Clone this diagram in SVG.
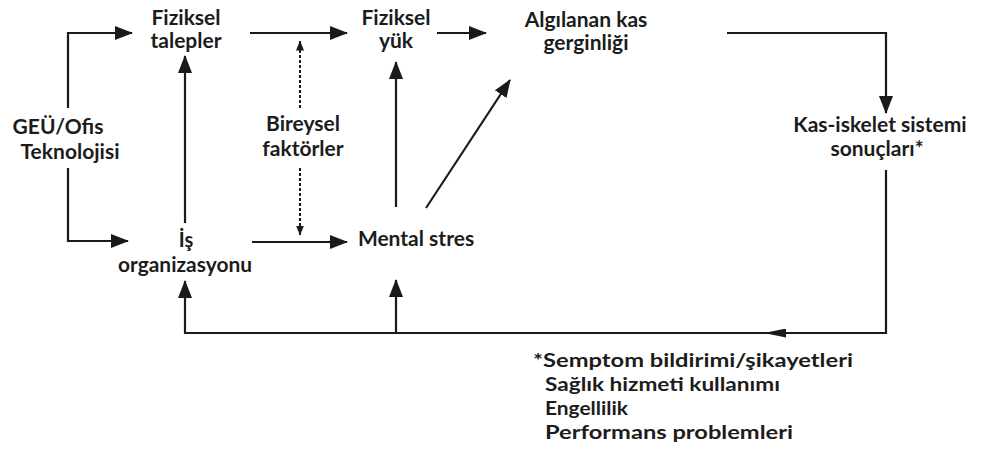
<svg xmlns="http://www.w3.org/2000/svg" width="985" height="454" viewBox="0 0 985 454">
<style>
.t{font-family:Lato,"Open Sans","Liberation Sans",sans-serif;font-weight:bold;font-size:21px;fill:#1c1c1c;text-anchor:middle}
.f{text-anchor:start;font-size:19.5px}
.c{fill:none;stroke:#1a1a1a;stroke-width:2.2}
.d{fill:none;stroke:#1a1a1a;stroke-width:2;stroke-dasharray:3 2}
</style>
<defs>
<marker id="a" markerUnits="userSpaceOnUse" viewBox="0 0 18 14" refX="17" refY="7" markerWidth="18" markerHeight="14" orient="auto">
<path d="M0,0 L18,7 L0,14 z" fill="#1a1a1a"/>
</marker>
<marker id="s" markerUnits="userSpaceOnUse" viewBox="0 0 10 8" refX="9.5" refY="4" markerWidth="10" markerHeight="8" orient="auto">
<path d="M0,0 L10,4 L0,8 z" fill="#1a1a1a"/>
</marker>
<marker id="m" markerUnits="userSpaceOnUse" viewBox="0 0 22 9" refX="21" refY="4.5" markerWidth="22" markerHeight="9" orient="auto">
<path d="M0,0 L22,4.5 L0,9 z" fill="#1a1a1a"/>
</marker>
</defs>
<rect width="985" height="454" fill="#fff"/>
<g id="connectors">
<path class="c" d="M68,108 V33 H132" marker-end="url(#a)"/>
<path class="c" d="M68,168 V241 H128" marker-end="url(#a)"/>
<path class="c" d="M250,33 H347" marker-end="url(#a)"/>
<path class="c" d="M437,33 H486" marker-end="url(#a)"/>
<path class="c" d="M185,223 V56" marker-end="url(#a)"/>
<path class="d" d="M300,108 V41" marker-end="url(#s)"/>
<path class="d" d="M300,168 V235" marker-end="url(#s)"/>
<path class="c" d="M252,242 H347" marker-end="url(#a)"/>
<path class="c" d="M396,207 V62" marker-end="url(#a)"/>
<path class="c" d="M426,208 L510,80" marker-end="url(#a)"/>
<path class="c" d="M727,33 H886 V113" marker-end="url(#a)"/>
<path class="c" d="M886,170 V333 H765" marker-end="url(#m)"/>
<path class="c" d="M766,333 H185 V281" marker-end="url(#a)"/>
<path class="c" d="M396,333 V280" marker-end="url(#a)"/>
</g>
<g id="geu"><text class="t" x="58" y="134">GEÜ/Ofis</text><text class="t" x="70" y="159">Teknolojisi</text></g>
<g id="fiziksel-talepler"><text class="t" x="186" y="25">Fiziksel</text><text class="t" x="186" y="48">talepler</text></g>
<g id="fiziksel-yuk"><text class="t" x="396" y="25">Fiziksel</text><text class="t" x="396" y="48">yük</text></g>
<g id="algilanan"><text class="t" x="586" y="27">Algılanan kas</text><text class="t" x="586" y="50">gerginliği</text></g>
<g id="bireysel"><text class="t" x="303" y="131">Bireysel</text><text class="t" x="303" y="156">faktörler</text></g>
<g id="kas-iskelet"><text class="t" x="880" y="132">Kas-iskelet sistemi</text><text class="t" x="877" y="156">sonuçları*</text></g>
<g id="is-org"><text class="t" x="186" y="247" style="font-size:20px">İş</text><text class="t" x="185" y="272" textLength="134" lengthAdjust="spacingAndGlyphs" style="font-size:20px">organizasyonu</text></g>
<g id="mental"><text class="t" x="416" y="246">Mental stres</text></g>
<g id="footnote">
<text class="t f" x="533" y="367" textLength="320" lengthAdjust="spacingAndGlyphs">*Semptom bildirimi/şikayetleri</text>
<text class="t f" x="545" y="391" textLength="235" lengthAdjust="spacingAndGlyphs">Sağlık hizmeti kullanımı</text>
<text class="t f" x="545" y="415" textLength="83" lengthAdjust="spacingAndGlyphs">Engellilik</text>
<text class="t f" x="545" y="439" textLength="248" lengthAdjust="spacingAndGlyphs">Performans problemleri</text>
</g>
</svg>
